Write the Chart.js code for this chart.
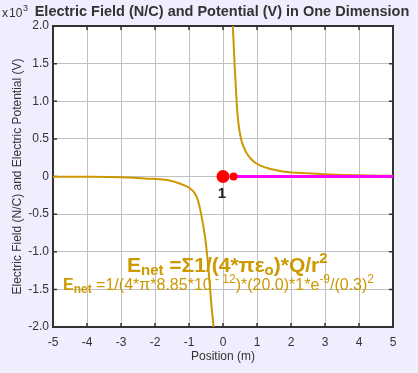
<!DOCTYPE html>
<html>
<head>
<meta charset="utf-8">
<script src="https://cdn.jsdelivr.net/npm/chart.js@4.4.1/dist/chart.umd.min.js"></script>
<style>
body { margin: 0; background: #eeeefe; }
#wrap { position: relative; width: 418px; height: 373px; }
</style>
</head>
<body>
<div id="wrap"><canvas id="chart"></canvas></div>
<script>
// axis ticks
const xTicks = [-5, -4, -3, -2, -1, 0, 1, 2, 3, 4, 5];
const yTicks = [-2, -1.5, -1, -0.5, 0, 0.5, 1, 1.5, 2];

// electric field right of the charge (x10^3 N/C)
const rightX = [0.28, 0.29, 0.31, 0.34, 0.37, 0.40, 0.45, 0.53, 0.62, 0.71, 0.90, 1.10, 1.40, 1.80, 2.50, 3.00, 4.00, 5.00];
const rightE = [2.2, 2.0, 1.8, 1.5, 1.25, 1.0, 0.72, 0.5, 0.38, 0.3, 0.2, 0.144, 0.1, 0.064, 0.042, 0.03, 0.015, 0.01];

// electric field left of the charge
const leftX = [-5.0, -4.0, -3.0, -2.3, -1.6, -1.3, -1.0, -0.82, -0.73, -0.63, -0.53, -0.46, -0.40, -0.33, -0.28, -0.27];
const leftE = [-0.003, -0.004, -0.01, -0.025, -0.05, -0.09, -0.15, -0.23, -0.33, -0.53, -0.8, -1.07, -1.38, -1.77, -2.0, -2.1];

// magenta line along the axis
const lineX = [0.25, 5];
const lineY = [0, 0];

// charge 1 and the small test point
const chargeX = [0];
const chargeY = [0];
const probeX = [0.31];
const probeY = [0];

const pts = (xs, ys) => xs.map((x, i) => ({ x: x, y: ys[i] }));

const FONT = '"Liberation Sans", Arial, sans-serif';
const GOLD = '#cc9900';
const INK = '#333333';
Chart.defaults.font.family = FONT;
Chart.defaults.color = INK;

function runs(ctx, x, y, parts) {
    ctx.fillStyle = GOLD;
    ctx.textAlign = 'left';
    ctx.textBaseline = 'alphabetic';
    parts.forEach(p => {
        ctx.font = p.f + ' ' + FONT;
        ctx.fillText(p.t, x, y + (p.dy || 0));
        x += ctx.measureText(p.t).width;
    });
}

const frame = {
    id: 'frame',
    beforeDraw(chart) {
        const { ctx, chartArea: a } = chart;
        ctx.save();
        ctx.fillStyle = '#ffffff';
        ctx.fillRect(a.left, a.top, a.right - a.left, a.bottom - a.top);
        ctx.restore();
    },
    beforeDatasetsDraw(chart) {
        const { ctx, chartArea: a, scales } = chart;
        ctx.save();
        ctx.strokeStyle = INK;
        ctx.lineWidth = 2;
        ctx.strokeRect(a.left, a.top, a.right - a.left, a.bottom - a.top);
        ctx.lineWidth = 1.5;
        ctx.beginPath();
        xTicks.forEach(v => {
            const px = scales.x.getPixelForValue(v);
            ctx.moveTo(px, a.top); ctx.lineTo(px, a.top + 4);
            ctx.moveTo(px, a.bottom); ctx.lineTo(px, a.bottom - 4);
        });
        yTicks.forEach(v => {
            const py = scales.y.getPixelForValue(v);
            ctx.moveTo(a.left, py); ctx.lineTo(a.left + 4, py);
            ctx.moveTo(a.right, py); ctx.lineTo(a.right - 4, py);
        });
        ctx.stroke();
        ctx.restore();
    },
    afterDraw(chart) {
        const { ctx, chartArea: a, scales } = chart;
        ctx.save();
        // title
        ctx.fillStyle = INK;
        ctx.textAlign = 'center';
        ctx.textBaseline = 'alphabetic';
        ctx.font = 'bold 14.5px ' + FONT;
        ctx.fillText('Electric Field (N/C) and Potential (V) in One Dimension', 222, 16);
        // exponent
        ctx.textAlign = 'left';
        ctx.font = '12px ' + FONT;
        ctx.fillText('x', 2, 17);
        ctx.fillText('10', 9, 17);
        ctx.font = '9px ' + FONT;
        ctx.fillText('3', 23, 11);
        // charge label
        ctx.font = 'bold 15px ' + FONT;
        ctx.fillStyle = '#222222';
        ctx.textAlign = 'center';
        ctx.fillText('1', scales.x.getPixelForValue(chargeX[0]) - 1, 198);
        // formulas
        runs(ctx, 127, 272, [
            { t: 'E', f: 'bold 21px' },
            { t: 'net', f: 'bold 15px', dy: 3 },
            { t: ' =Σ1/(4*πε', f: 'bold 21px' },
            { t: 'o', f: 'bold 15px', dy: 3 },
            { t: ')*Q/r', f: 'bold 21px' },
            { t: '2', f: 'bold 15px', dy: -9 }
        ]);
        runs(ctx, 63, 290, [
            { t: 'E', f: 'bold 16px' },
            { t: 'net', f: 'bold 12px', dy: 3 },
            { t: ' =1/(4*π*8.85*10', f: '16px' },
            { t: ' - 12', f: '12px', dy: -7 },
            { t: ')*(20.0)*1*e', f: '16px' },
            { t: '-9', f: '12px', dy: -7 },
            { t: '/(0.3)', f: '16px' },
            { t: '2', f: '12px', dy: -7 }
        ]);
        ctx.restore();
    }
};

new Chart(document.getElementById('chart'), {
    type: 'scatter',
    data: {
        datasets: [
            { data: pts(chargeX, chargeY), backgroundColor: '#ff0000', borderWidth: 0, pointRadius: 6.5 },
            { data: pts(probeX, probeY), backgroundColor: '#ff0000', borderWidth: 0, pointRadius: 4 },
            { data: pts(lineX, lineY), showLine: true, borderColor: '#ff00ff', borderWidth: 3, pointRadius: 0 },
            { data: pts(rightX, rightE), showLine: true, borderColor: GOLD, borderWidth: 2, pointRadius: 0, cubicInterpolationMode: 'monotone' },
            { data: pts(leftX, leftE), showLine: true, borderColor: GOLD, borderWidth: 2, pointRadius: 0, cubicInterpolationMode: 'monotone' }
        ]
    },
    options: {
        responsive: true,
        maintainAspectRatio: false,
        animation: false,
        layout: { padding: { top: 26, right: 25, left: 0, bottom: 0 } },
        plugins: { legend: { display: false }, tooltip: { enabled: false } },
        scales: {
            x: {
                type: 'linear', min: -5, max: 5,
                afterBuildTicks: s => { s.ticks = xTicks.map(v => ({ value: v })); },
                afterFit: s => { s.height = 46; },
                grid: { color: '#c0c0c0', drawTicks: false },
                border: { display: false },
                ticks: { color: INK, font: { size: 12 }, padding: 8 },
                title: { display: true, text: 'Position (m)', color: INK, font: { size: 12 }, padding: { top: 0, bottom: 9 } }
            },
            y: {
                type: 'linear', min: -2, max: 2,
                afterBuildTicks: s => { s.ticks = yTicks.map(v => ({ value: v })); },
                afterFit: s => { s.width = 53; },
                grid: { color: '#c0c0c0', drawTicks: false },
                border: { display: false },
                ticks: { color: INK, font: { size: 12 }, padding: 4, callback: v => v === 0 ? '0' : v.toFixed(1) },
                title: { display: true, text: 'Electric Field (N/C) and Electric Potential (V)', color: INK, font: { size: 12 }, padding: { top: 10, bottom: 0 } }
            }
        }
    },
    plugins: [frame]
});
</script>
</body>
</html>
